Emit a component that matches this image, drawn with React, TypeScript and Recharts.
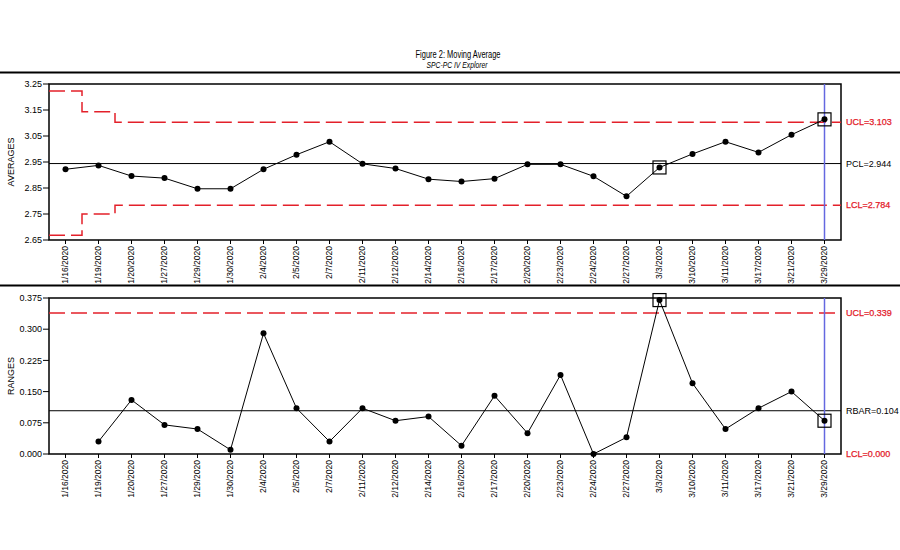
import React from 'react';
import { LineChart, Line, XAxis, YAxis, ReferenceLine, ReferenceArea } from 'recharts';

const dates = [
  '1/16/2020', '1/19/2020', '1/20/2020', '1/27/2020', '1/29/2020', '1/30/2020',
  '2/4/2020', '2/5/2020', '2/7/2020', '2/11/2020', '2/12/2020', '2/14/2020',
  '2/16/2020', '2/17/2020', '2/20/2020', '2/23/2020', '2/24/2020', '2/27/2020',
  '3/3/2020', '3/10/2020', '3/11/2020', '3/17/2020', '3/21/2020', '3/29/2020',
];
const averages = [
  2.922, 2.937, 2.896, 2.888, 2.847, 2.847, 2.922, 2.978, 3.028, 2.943, 2.925, 2.884,
  2.875, 2.886, 2.941, 2.941, 2.895, 2.818, 2.929, 2.981, 3.028, 2.987, 3.055, 3.114,
];
const ranges: (number | null)[] = [
  null, 0.03, 0.13, 0.07, 0.06, 0.01, 0.29, 0.11, 0.03, 0.11, 0.08, 0.09,
  0.02, 0.14, 0.05, 0.19, 0.0, 0.04, 0.37, 0.17, 0.06, 0.11, 0.15, 0.08,
];
const flaggedAvg = [18, 23];
const flaggedRange = [18, 23];

const avgTicks = [2.65, 2.75, 2.85, 2.95, 3.05, 3.15, 3.25];
const rangeTicks = [0, 0.075, 0.15, 0.225, 0.3, 0.375];

const uclLevels = [3.223, 3.143, 3.103];
const lclLevels = [2.668, 2.75, 2.784];
const stepBounds = [0, 1, 2, 24];
const PCL = 2.944;
const R_UCL = 0.339;
const RBAR = 0.104;
const R_LCL = 0.0;

const RED = '#e3202a';
const BLUE = '#6468e0';

const xTicks = dates.map((_, i) => i + 0.5);
const avgData = dates.map((d, i) => ({ x: i + 0.5, date: d, v: averages[i] }));
const rangeData = dates.map((d, i) => ({ x: i + 0.5, date: d, v: ranges[i] }));
const buildSteps = (levels: number[]) => {
  const out: { x: number; v: number }[] = [];
  levels.forEach((lv, k) => {
    out.push({ x: stepBounds[k], v: lv });
    out.push({ x: stepBounds[k + 1], v: lv });
  });
  return out;
};
const uclData = buildSteps(uclLevels);
const lclData = buildSteps(lclLevels);

const RotTick = (props: any) => {
  const { x, y, payload } = props;
  const idx = Math.round(payload.value - 0.5);
  return (
    <text
      x={x}
      y={y}
      transform={`rotate(-90, ${x}, ${y})`}
      textAnchor="end"
      dy="0.35em"
      fontSize={8.5}
      fill="#000"
    >
      {dates[idx]}
    </text>
  );
};

const makeDot = (flags: number[]) => (props: any) => {
  const { cx, cy, index, key } = props;
  if (cx == null || cy == null || Number.isNaN(cy)) return <g key={key ?? index} />;
  return (
    <g key={key ?? index}>
      <circle cx={cx} cy={cy} r={3} fill="#000" stroke="none" />
      {flags.includes(index) && (
        <rect x={cx - 6.5} y={cy - 6.5} width={13} height={13} fill="none" stroke="#000" strokeWidth={1.2} />
      )}
    </g>
  );
};

const xAxisProps = {
  type: 'number' as const,
  dataKey: 'x',
  domain: [0, 24],
  ticks: xTicks,
  interval: 0,
  axisLine: false,
  tickLine: { stroke: '#000' },
  tickSize: 4,
  tickMargin: 2,
  tick: <RotTick />,
};

const redLabel = (value: string) => ({
  value,
  position: 'right' as const,
  fill: RED,
  fontSize: 9,
  stroke: RED,
  strokeWidth: 0.25,
});
const blackLabel = (value: string) => ({
  value,
  position: 'right' as const,
  fill: '#000',
  fontSize: 9,
});

export default function App() {
  return (
    <div
      style={{
        position: 'absolute',
        left: 0,
        top: 0,
        width: 900,
        height: 550,
        background: '#fff',
        fontFamily: "'Liberation Sans', Arial, sans-serif",
      }}
    >
      <svg width={900} height={550} style={{ position: 'absolute', left: 0, top: 0 }}>
        <text x={458} y={58} textAnchor="middle" fontSize={10} fill="#000" textLength={85} lengthAdjust="spacingAndGlyphs">
          Figure 2: Moving Average
        </text>
        <text x={457} y={67.5} textAnchor="middle" fontSize={8.5} fontStyle="italic" fill="#000" textLength={61} lengthAdjust="spacingAndGlyphs">
          SPC-PC IV Explorer
        </text>
        <line x1={0} x2={900} y1={72.5} y2={72.5} stroke="#000" strokeWidth={2} />
        <line x1={0} x2={900} y1={285.5} y2={285.5} stroke="#000" strokeWidth={2} />
        <text x={11} y={162} transform="rotate(-90, 11, 162)" textAnchor="middle" dy="0.35em" fontSize={9} fill="#000">
          AVERAGES
        </text>
        <text x={11} y={376} transform="rotate(-90, 11, 376)" textAnchor="middle" dy="0.35em" fontSize={9} fill="#000">
          RANGES
        </text>
      </svg>

      <div style={{ position: 'absolute', left: 0, top: 0 }}>
        <LineChart width={900} height={290} margin={{ top: 84, right: 59, left: 0, bottom: 4 }}>
          <XAxis {...xAxisProps} height={46} />
          <YAxis
            type="number"
            domain={[2.65, 3.25]}
            ticks={avgTicks}
            interval={0}
            width={49}
            axisLine={false}
            tickLine={{ stroke: '#000' }}
            tickSize={6}
            tickMargin={1}
            tick={{ fill: '#000', fontSize: 9 }}
            tickFormatter={(v: number) => v.toFixed(2)}
          />
          <ReferenceArea x1={0} x2={24} y1={2.65} y2={3.25} fill="none" stroke="#000" strokeWidth={1.5} fillOpacity={0} />
          <ReferenceLine y={PCL} stroke="#000" strokeWidth={1}
            label={blackLabel(`PCL=${PCL.toFixed(3)}`)} />
          <ReferenceLine y={uclLevels[2]} stroke="none" strokeOpacity={0}
            label={redLabel(`UCL=${uclLevels[2].toFixed(3)}`)} />
          <ReferenceLine y={lclLevels[2]} stroke="none" strokeOpacity={0}
            label={redLabel(`LCL=${lclLevels[2].toFixed(3)}`)} />
          <Line data={uclData} dataKey="v" stroke={RED} strokeWidth={1.5} strokeDasharray="16 6" dot={false} isAnimationActive={false} type="linear" />
          <Line data={lclData} dataKey="v" stroke={RED} strokeWidth={1.5} strokeDasharray="16 6" dot={false} isAnimationActive={false} type="linear" />
          <ReferenceLine x={xTicks[xTicks.length - 1]} stroke={BLUE} strokeWidth={1.5} />
          <Line data={avgData} dataKey="v" stroke="#000" strokeWidth={1} dot={makeDot(flaggedAvg)} isAnimationActive={false} type="linear" />
        </LineChart>
      </div>

      <div style={{ position: 'absolute', left: 0, top: 286 }}>
        <LineChart width={900} height={264} margin={{ top: 12, right: 59, left: 0, bottom: 46 }}>
          <XAxis {...xAxisProps} height={50} />
          <YAxis
            type="number"
            domain={[0, 0.375]}
            ticks={rangeTicks}
            interval={0}
            width={49}
            axisLine={false}
            tickLine={{ stroke: '#000' }}
            tickSize={6}
            tickMargin={1}
            tick={{ fill: '#000', fontSize: 9 }}
            tickFormatter={(v: number) => v.toFixed(3)}
          />
          <ReferenceArea x1={0} x2={24} y1={0} y2={0.375} fill="none" stroke="#000" strokeWidth={1.5} fillOpacity={0} />
          <ReferenceLine y={R_UCL} stroke={RED} strokeWidth={1.5} strokeDasharray="16 6"
            label={redLabel(`UCL=${R_UCL.toFixed(3)}`)} />
          <ReferenceLine y={RBAR} stroke="#000" strokeWidth={1}
            label={blackLabel(`RBAR=${RBAR.toFixed(3)}`)} />
          <ReferenceLine y={R_LCL} stroke="none" strokeOpacity={0}
            label={redLabel(`LCL=${R_LCL.toFixed(3)}`)} />
          <ReferenceLine x={xTicks[xTicks.length - 1]} stroke={BLUE} strokeWidth={1.5} />
          <Line data={rangeData} dataKey="v" stroke="#000" strokeWidth={1} dot={makeDot(flaggedRange)} isAnimationActive={false} type="linear" connectNulls={false} />
        </LineChart>
      </div>
    </div>
  );
}
